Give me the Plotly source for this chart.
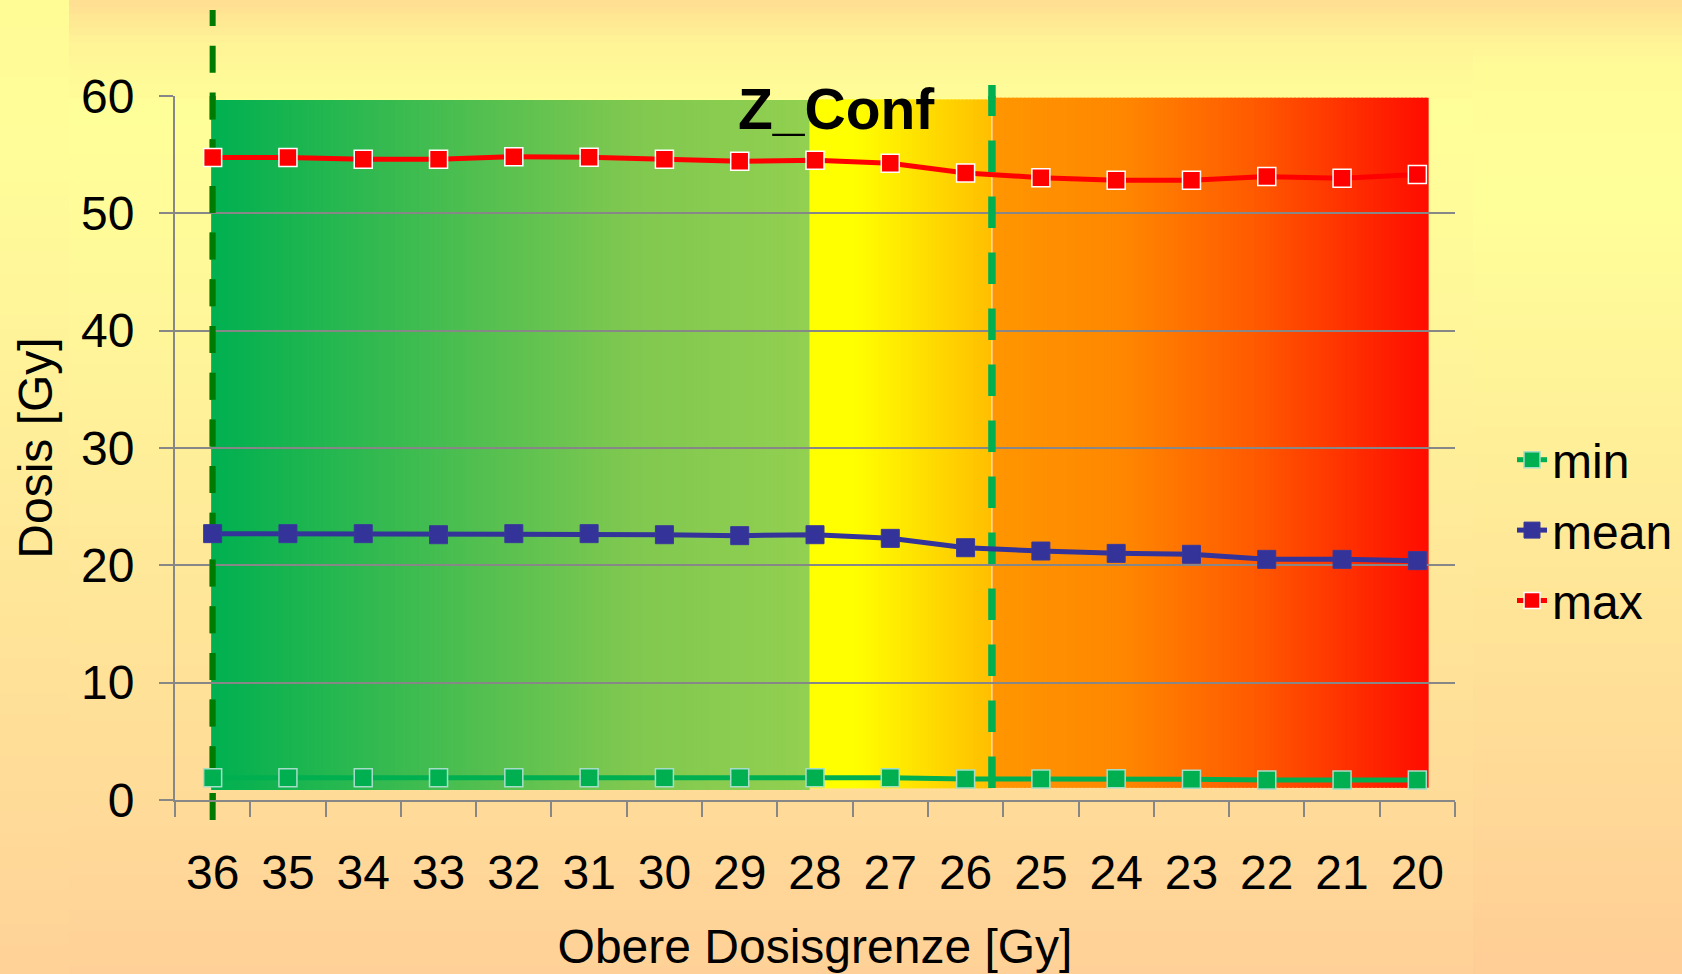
import plotly.graph_objects as go

# ---------------- data ----------------
doses = [36, 35, 34, 33, 32, 31, 30, 29, 28, 27, 26, 25, 24, 23, 22, 21, 20]
x_labels = [str(d) for d in doses]
min_vals = [1.90, 1.90, 1.90, 1.90, 1.90, 1.90, 1.90, 1.90, 1.90, 1.90, 1.79, 1.79, 1.82, 1.76, 1.70, 1.70, 1.70]
mean_vals = [22.70, 22.70, 22.70, 22.61, 22.70, 22.70, 22.61, 22.53, 22.61, 22.30, 21.50, 21.22, 21.02, 20.94, 20.51, 20.51, 20.40]
max_vals = [54.75, 54.75, 54.60, 54.60, 54.83, 54.77, 54.60, 54.43, 54.52, 54.26, 53.44, 53.04, 52.81, 52.81, 53.13, 52.98, 53.32]
series_names = ["min", "mean", "max"]

# background zones (dose units on x, Gy on y)
zone_green = dict(d0=36.02, d1=28.07, y0=0.85, y1=59.66)
zone_yellow = dict(d0=28.07, d1=25.65, y0=1.0, y1=59.7)
zone_red = dict(d0=25.65, d1=19.85, y0=1.05, y1=59.85)
z_conf_dose = 25.65
ref_dose = 36
annotation_text = "Z_Conf"

# ---------------- styles ----------------
FONT = "Liberation Sans, Arial, sans-serif"
GRID = "#878787"
FS = 48
GREEN_SCALE = [(0, (0, 176, 80)), (0.7, (128, 200, 80)), (1, (146, 208, 80))]
YELLOW_SCALE = [(0, (255, 255, 0)), (0.25, (255, 255, 0)), (1, (255, 190, 0))]
RED_SCALE = [(0, (255, 150, 0)), (0.3, (255, 135, 0)), (0.6, (255, 90, 0)), (1, (255, 12, 0))]

W, H = 1682, 974
L, R, T, B = 175, 1455, 96, 800


def interp(scale, f):
    for (a, ca), (b, cb) in zip(scale[:-1], scale[1:]):
        if a <= f <= b:
            t = 0 if b == a else (f - a) / (b - a)
            return "rgb(%d,%d,%d)" % tuple(round(ca[i] + (cb[i] - ca[i]) * t) for i in range(3))
    c = scale[-1][1]
    return "rgb(%d,%d,%d)" % c


def idx(d):
    return doses[0] - d


shapes = []


def px_x(p):
    return (p - L) / (R - L)


def px_y(p):
    return (B - p) / (B - T)


# page background (vertical gradients in three columns), paper coordinates
cols = [
    (0, 69, [(0, (255, 252, 150)), (150, (255, 253, 153)), (974, (255, 210, 152))]),
    (69, 1473, [(0, (255, 222, 146)), (45, (255, 244, 150)), (110, (255, 255, 153)), (250, (255, 250, 153)), (974, (255, 209, 152))]),
    (1473, 1682, [(0, (255, 222, 146)), (45, (255, 244, 150)), (67, (255, 252, 152)), (200, (255, 255, 153)), (974, (255, 205, 150))]),
]
step = 7
for x0, x1, stops in cols:
    sc = [(s / 974.0, c) for s, c in stops]
    y = 0
    while y < H:
        yb = min(y + step + 1, H)
        shapes.append(dict(type="rect", xref="paper", yref="paper", layer="below",
                           x0=px_x(x0), x1=px_x(x1 + 1), y0=px_y(yb), y1=px_y(y),
                           line=dict(width=0), fillcolor=interp(sc, (y + step / 2) / 974.0)))
        y += step


# zone gradients as thin vertical stripes in data coordinates
def zone(z, scale, n):
    a, b = idx(z["d0"]), idx(z["d1"])
    w = (b - a) / n
    for i in range(n):
        shapes.append(dict(type="rect", xref="x", yref="y", layer="below",
                           x0=a + i * w, x1=min(a + (i + 1.6) * w, b), y0=z["y0"], y1=z["y1"],
                           line=dict(width=0), fillcolor=interp(scale, (i + 0.5) / n)))


zone(zone_green, GREEN_SCALE, 150)
zone(zone_yellow, YELLOW_SCALE, 48)
zone(zone_red, RED_SCALE, 110)

# thin light line at the Z_Conf boundary
shapes.append(dict(type="line", xref="x", yref="y", layer="below",
                   x0=idx(z_conf_dose), x1=idx(z_conf_dose), y0=zone_red["y0"], y1=zone_red["y1"],
                   line=dict(color="rgba(255,240,215,0.9)", width=1.2)))


# dashed reference lines (outside part in paper layer, inside part between grid and traces)
def vline(dose, ytop_px, ybot_px, color, width, dash):
    x = idx(dose)
    shapes.append(dict(type="line", xref="x", yref="paper", layer="below",
                       x0=x, x1=x, y0=px_y(ybot_px), y1=px_y(ytop_px),
                       line=dict(color=color, width=width, dash=dash)))
    yv = lambda p: (B - p) / (B - T) * 60.0
    shapes.append(dict(type="line", xref="x", yref="y", layer="between",
                       x0=x, x1=x, y0=yv(ybot_px), y1=yv(ytop_px),
                       line=dict(color=color, width=width, dash=dash)))


vline(ref_dose, 10, 820, "#007A00", 6, "27px,19.7px")
vline(z_conf_dose, 85, 788, "#00B050", 7.5, "31.5px,24.5px")

fig = go.Figure()
styles = [
    dict(line="#00B050", fill="#00B050", edge="#A6DDC9", lw=1.5),
    dict(line="#333399", fill="#333399", edge="#3A3A9A", lw=1),
    dict(line="#FF0000", fill="#FF0000", edge="#FFFFFF", lw=1.5),
]
for name, vals, st in zip(series_names, [min_vals, mean_vals, max_vals], styles):
    fig.add_trace(go.Scatter(
        x=x_labels, y=vals, name=name, mode="lines+markers", legendgroup=name,
        line=dict(color=st["line"], width=5),
        marker=dict(symbol="square", size=18, color=st["fill"], line=dict(color=st["edge"], width=st["lw"])),
        cliponaxis=False,
    ))

fig.add_annotation(text="<b>%s</b>" % annotation_text, xref="paper", yref="paper",
                   x=px_x(836), y=px_y(109), xanchor="center", yanchor="middle", showarrow=False,
                   font=dict(family=FONT, size=57, color="black"))

fig.update_layout(
    width=W, height=H, autosize=False,
    margin=dict(l=L, r=W - R, t=T, b=H - B, pad=0, autoexpand=False),
    paper_bgcolor="rgba(0,0,0,0)", plot_bgcolor="rgba(0,0,0,0)",
    font=dict(family=FONT, size=FS, color="black"),
    shapes=shapes,
    showlegend=True,
    legend=dict(x=px_x(1512), y=px_y(422), xanchor="left", yanchor="top",
                bgcolor="rgba(0,0,0,0)", borderwidth=0, tracegroupgap=5,
                font=dict(family=FONT, size=FS, color="black")),
    xaxis=dict(type="category", categoryorder="array", categoryarray=x_labels,
               range=[-0.5, len(doses) - 0.5], tickson="boundaries",
               ticks="outside", ticklen=15, tickwidth=2, tickcolor=GRID,
               showline=True, linecolor=GRID, linewidth=2, showgrid=False,
               tickfont=dict(size=FS), ticklabelstandoff=29,
               title=dict(text="Obere Dosisgrenze [Gy]", font=dict(size=FS), standoff=32)),
    yaxis=dict(range=[0, 60], dtick=10, tick0=0, ticks="outside", ticklen=14, tickwidth=2,
               tickcolor=GRID, showline=True, linecolor=GRID, linewidth=2,
               showgrid=True, gridcolor=GRID, gridwidth=2, zeroline=False,
               tickfont=dict(size=FS), ticklabelstandoff=15,
               title=dict(text="Dosis [Gy]", font=dict(size=FS), standoff=13)),
)

fig.write_html("out.html", config={"displayModeBar": False},
               post_script="document.body.style.margin='0';document.body.style.overflow='hidden';")
